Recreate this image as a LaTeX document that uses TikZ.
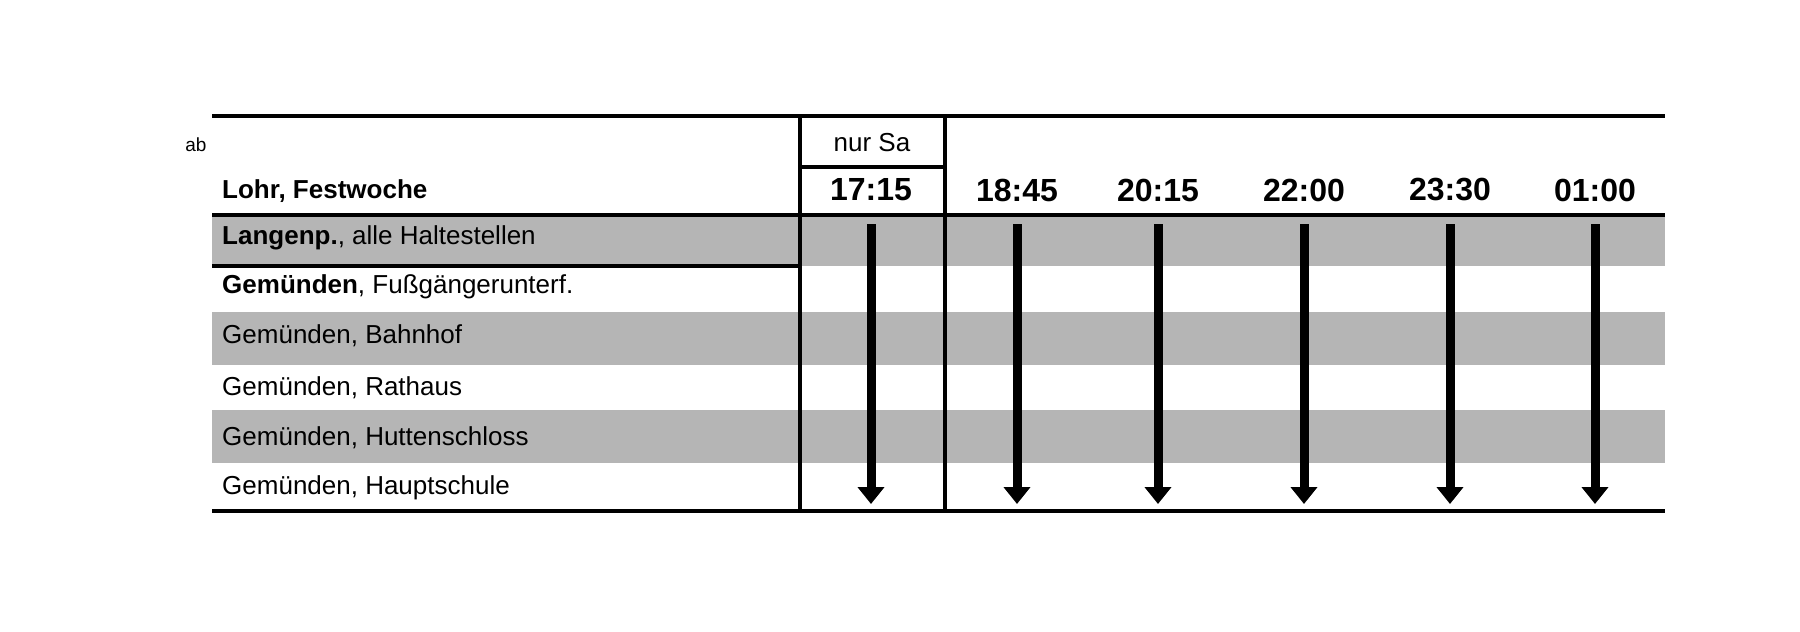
\documentclass[tikz,border=0pt]{standalone}
\usepackage{fontspec}
\setmainfont{Liberation Sans}
\usetikzlibrary{arrows.meta}

\begin{document}
\begin{tikzpicture}[x=1pt,y=-1pt]
    \tikzstyle{rule}=[draw,line width = 3.5pt,-,black!100]
    \tikzstyle{band}=[fill=black!29]
    \tikzstyle{station}=[anchor=west,inner sep=0pt,font=\fontsize{26}{30}\selectfont]
    \tikzstyle{time}=[inner sep=0pt,font=\fontsize{32}{36}\selectfont\bfseries]
    \tikzstyle{run}=[draw,line width = 9pt,-{Triangle[width=26pt,length=17pt]}]
    \useasboundingbox (0,0) rectangle (1800,632);
    % grey bands
    \fill[band] (212,215) rectangle (1665,266);
    \fill[band] (212,312) rectangle (1665,365);
    \fill[band] (212,410) rectangle (1665,463);
    % rules
    \draw[rule] (212,116) -- (1665,116);
    \draw[rule] (212,215) -- (1665,215);
    \draw[rule] (212,511) -- (1665,511);
    \draw[rule] (212,266) -- (800,266);
    \draw[rule] (800,116) -- (800,511);
    \draw[rule] (945,116) -- (945,511);
    \draw[rule] (800,167) -- (945,167);
    % head
    \node[inner sep=0pt,font=\fontsize{19}{22}\selectfont] (ab) at (196,145) {ab};
    \node[station,font=\fontsize{26}{30}\selectfont\bfseries] (lohr) at (222,191) {Lohr, Festwoche};
    \node[inner sep=0pt,font=\fontsize{26}{30}\selectfont] (sa) at (872,143) {nur Sa};
    % stations
    \node[station] (s1) at (222,238) {\textbf{Langenp.}, alle Haltestellen};
    \node[station] (s2) at (222,287) {\textbf{Gemünden}, Fußgängerunterf.};
    \node[station] (s3) at (222,336) {Gemünden, Bahnhof};
    \node[station] (s4) at (222,388) {Gemünden, Rathaus};
    \node[station] (s5) at (222,438) {Gemünden, Huttenschloss};
    \node[station] (s6) at (222,488) {Gemünden, Hauptschule};
    % departures
    \foreach \x/\t [count=\i] in {871/17:15,1017/18:45,1158/20:15,1304/22:00,1450/23:30,1595/01:00}{
        \node[time] (t\i) at (\x,190) {\t};
        \coordinate (a\i) at (\x,224);
        \coordinate (b\i) at (\x,504);
        \draw[run] (a\i) -- (b\i);
    }
\end{tikzpicture}
\end{document}
